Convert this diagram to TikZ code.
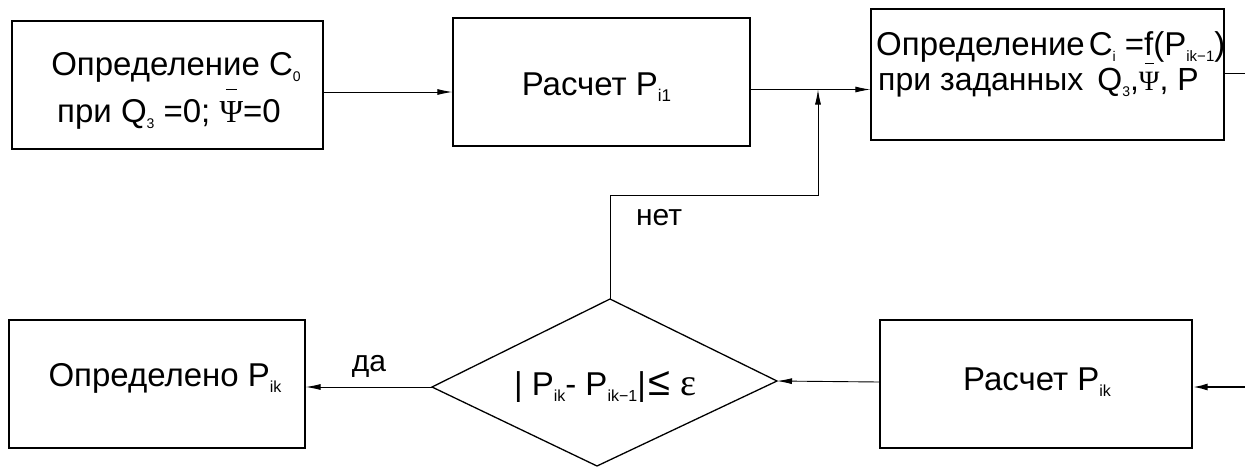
\documentclass[tikz,border=0pt]{standalone}
\usepackage{graphicx}
\usepackage{fontspec}
\setmainfont{Liberation Sans}
\newfontfamily\serif{Liberation Serif}
\usetikzlibrary{arrows.meta}
\newcommand\sub[2][15]{\raisebox{-6pt}{\fontsize{#1}{#1}\selectfont #2}}
\newcommand\psib[3]{\ooalign{{\serif\fontsize{#1}{#1}\selectfont Ψ}\cr\hidewidth\raisebox{#2}{\rule{#3}{1pt}}\hidewidth\cr}}
\tikzset{
  box/.style={draw=black, line width=1.3pt, inner sep=0pt},
  txt/.style={anchor=base, inner sep=0pt, font=\fontsize{33}{38}\selectfont, text=black},
  lbl/.style={anchor=base, inner sep=0pt, font=\fontsize{30}{36}\selectfont, text=black},
  conn/.style={draw=black, line width=0.9pt},
  arr/.style={conn, -{Latex[length=15pt,width=6pt]}},
  thickarr/.style={draw=black, line width=2pt, -{Latex[length=15pt,width=7pt]}},
}
\begin{document}
\begin{tikzpicture}[x=1pt,y=-1pt]
\clip (0,0) rectangle (1245,466);
\fill[white] (0,0) rectangle (1245,466);

% boxes
\node[box, minimum width=311pt, minimum height=128pt] (b1) at (167.5,85) {};
\node[box, minimum width=297pt, minimum height=128pt] (b2) at (601.5,82) {};
\node[box, minimum width=353pt, minimum height=131pt] (b3) at (1047.5,74.5) {};
\node[box, minimum width=296pt, minimum height=128pt] (b4) at (157,384) {};
\node[box, minimum width=312pt, minimum height=128pt] (b5) at (1036,384) {};

% diamond
\coordinate (dt) at (610,299);
\coordinate (dr) at (777,381);
\coordinate (db) at (597,466);
\coordinate (dl) at (432,387);
\draw[line width=1.3pt, line join=miter] (dt) -- (dr) -- (db) -- (dl) -- cycle;

% texts
\node[txt] (t1a) at (176,75) {Определение C\sub[14]{0}};
\node[txt] (t1b) at (169,122) {при Q\sub[14]{3} =0; \psib{32}{32pt}{11pt}=0};
\node[txt] (t2) at (596.5,95) {Расчет P\sub[17]{i1}};
\node[txt, anchor=base west] (t3a) at (876,55) {Определение\kern4pt C\sub[14]{i} =f(P\sub[15]{ik−1})};
\node[txt, anchor=base west] (t3b) at (878,90) {\fontsize{32}{36}\selectfont при заданных\kern14pt Q\sub[14]{3},\psib{28}{26pt}{9pt}, P};
\node[txt] (t4) at (165,386) {Определено P\sub[16]{ik}};
\node[txt] (t5) at (1037,390) {Расчет P\sub[16]{ik}};
\node[txt] (t6) at (605,395) {| P\sub[16]{ik}- P\sub[16]{ik−1}|\kern3pt{\fontsize{40}{40}\selectfont ≤} {\serif\fontsize{38}{38}\selectfont ε}};
\node[lbl] (no) at (659,225) {нет};
\node[lbl] (yes) at (369,371) {да};

% connectors
\coordinate (j) at (818,89.5);
\coordinate (k) at (818,195);
\coordinate (o1) at (1250,73);
\coordinate (o2) at (1250,387);
\draw[arr] ([yshift=-7pt]b1.east) -- ([yshift=-10pt]b2.west);
\draw[arr] ([yshift=-7.5pt]b2.east) -- ([yshift=-15pt]b3.west);
\draw[arr] (dt) |- (k) -- (j);
\draw[conn] ([yshift=1.5pt]b3.east) -- (o1);
\draw[thickarr] (o2) -- ([yshift=-3pt]b5.east);
\draw[arr] ([yshift=2pt]b5.west) -- (dr);
\draw[arr] (dl) -- ([yshift=-3pt]b4.east);
\end{tikzpicture}
\end{document}
